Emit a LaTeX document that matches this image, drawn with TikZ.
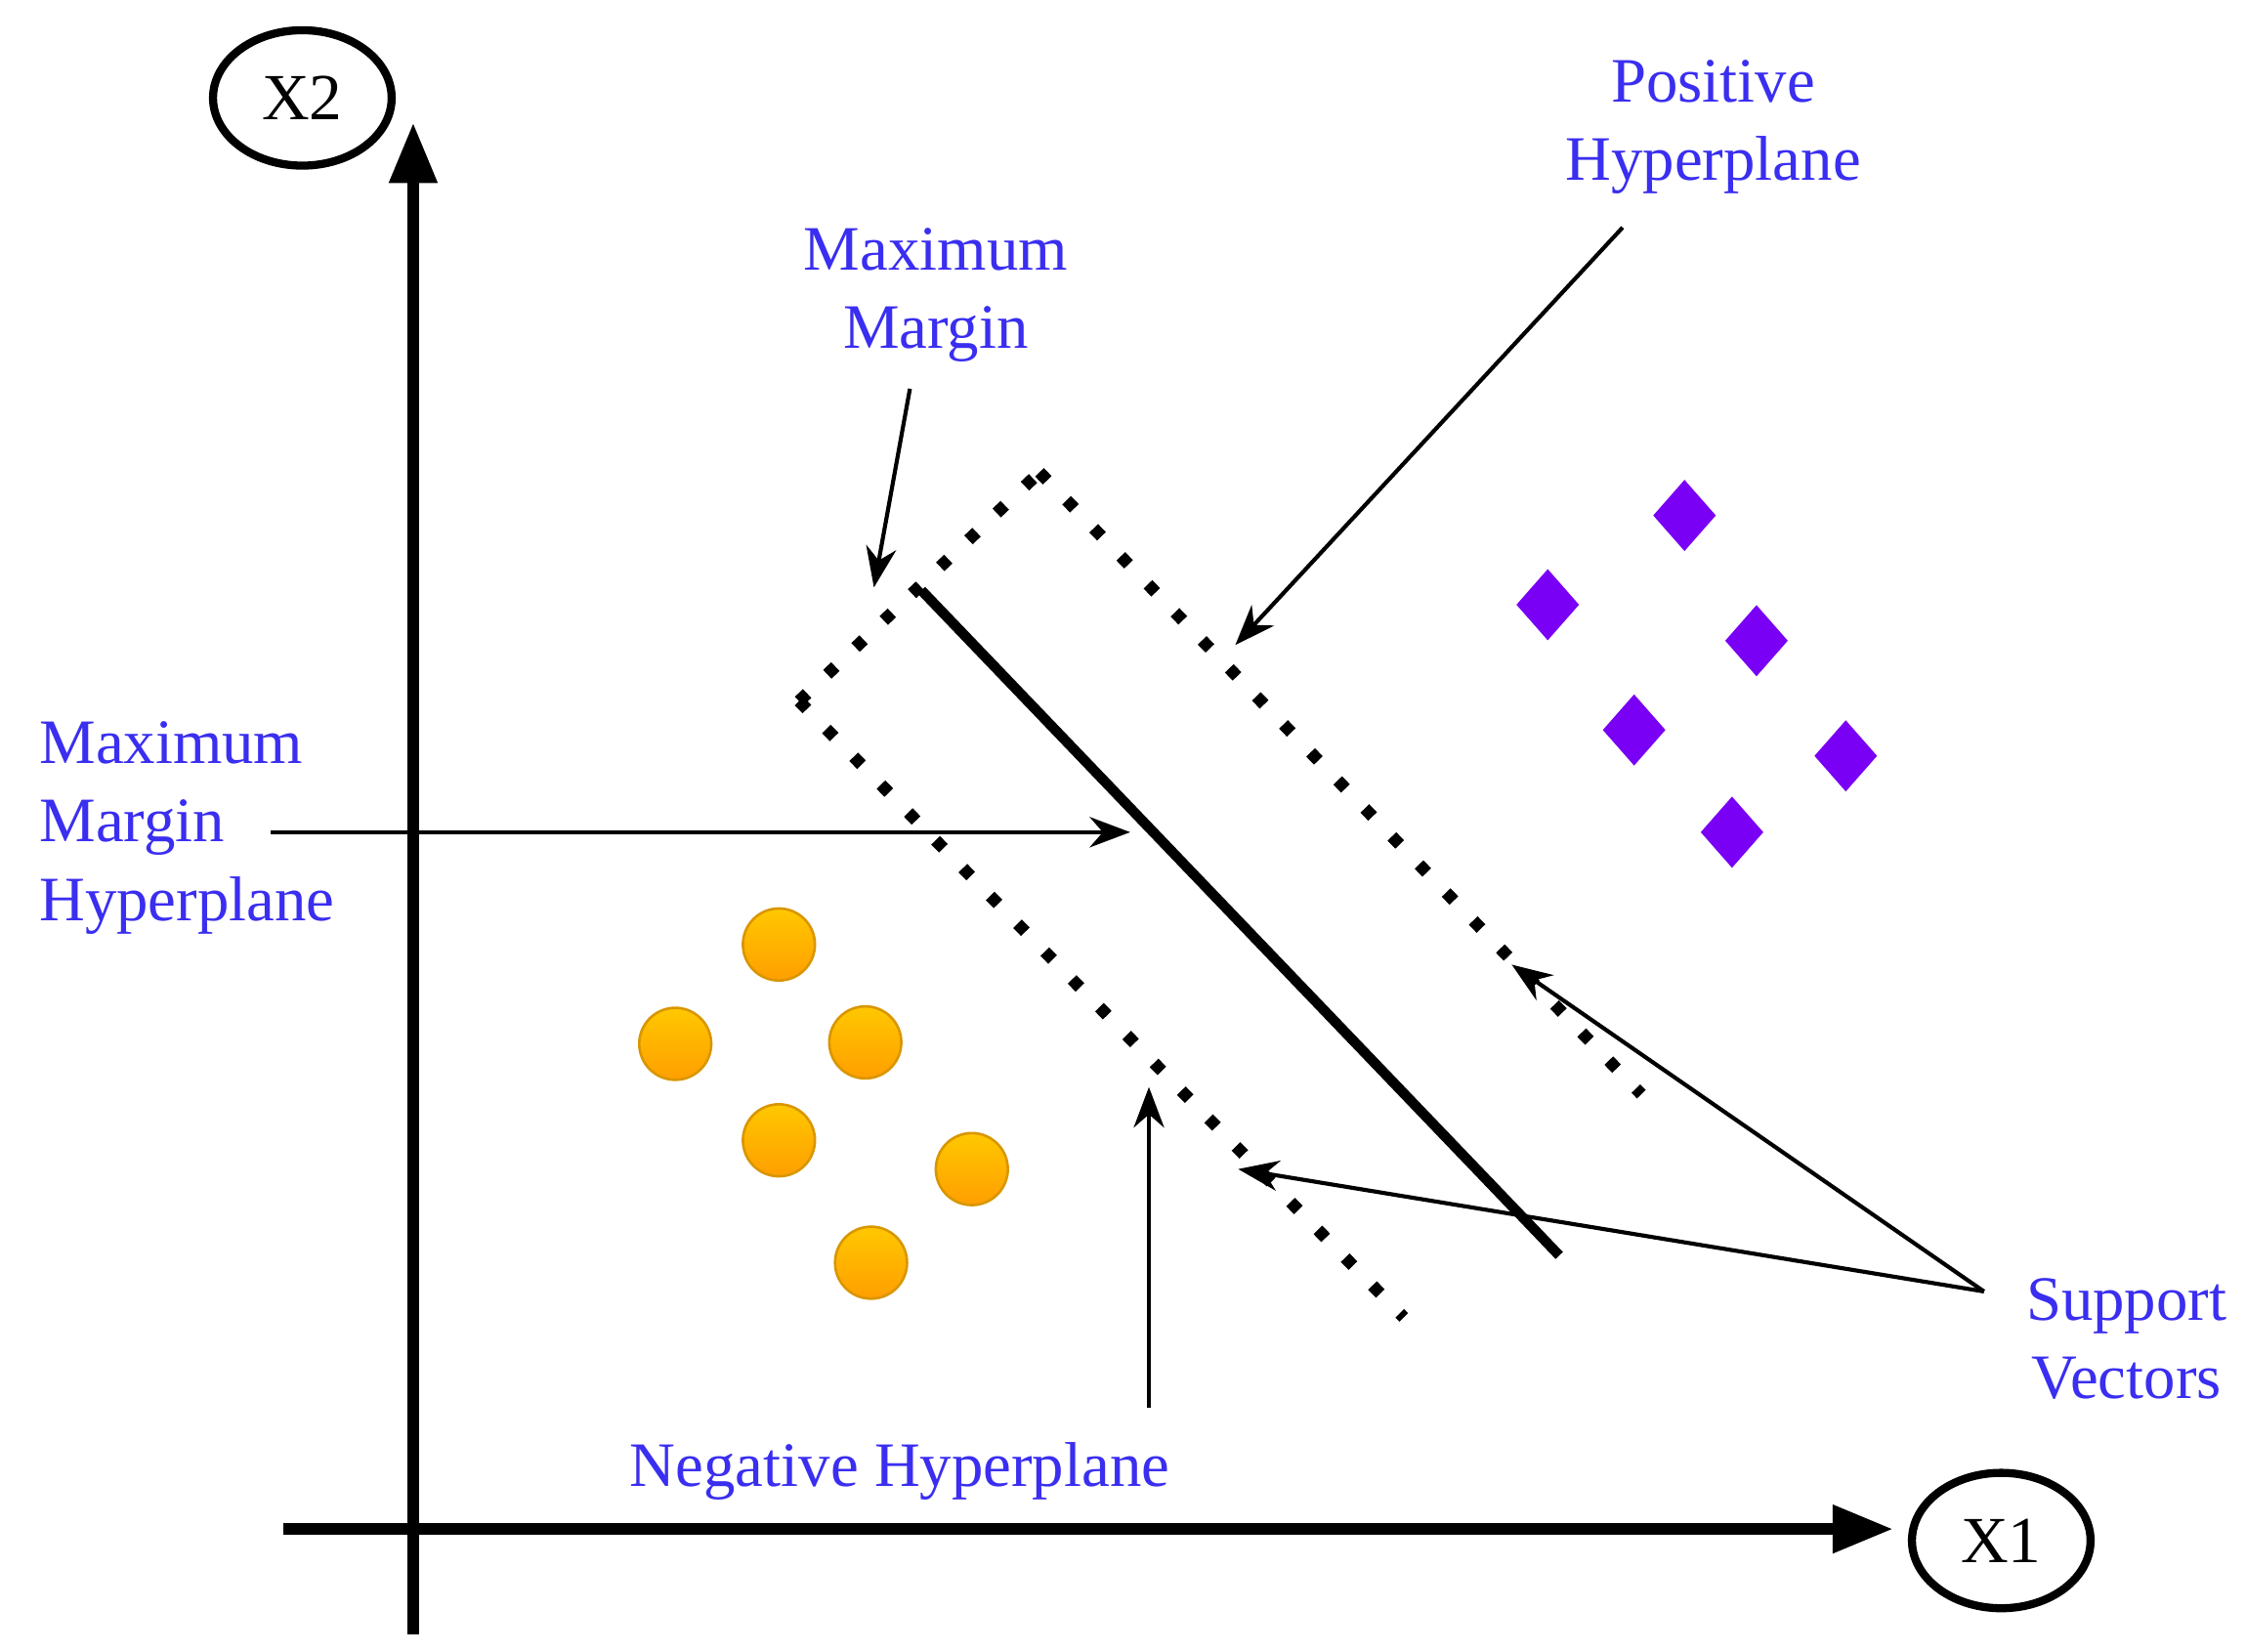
\documentclass[tikz,border=0pt]{standalone}
\usepackage{fontspec}
\setmainfont{Liberation Serif}
\usetikzlibrary{arrows.meta,shapes.geometric}
\definecolor{lbl}{HTML}{3A2EF0}
\definecolor{dia}{HTML}{7A00F5}
\definecolor{org}{HTML}{FFB000}
\begin{document}
\begin{tikzpicture}[x=0.01cm,y=-0.01cm,
  lab/.style={text=lbl,font=\fontsize{12.5}{15.5}\selectfont,align=center},
  axis/.style={line width=2.4pt,-{Triangle[length=12pt,width=9pt]}},
  ptr/.style={line width=0.8pt,-{Stealth[length=8pt,width=6pt]}},
  dots/.style={line width=2.4pt,dash pattern=on 2.2pt off 5.5pt},
  dmd/.style={diamond,fill=dia,minimum width=0.44cm,minimum height=0.5cm,inner sep=0},
  pt/.style={circle,minimum size=0.5cm,inner sep=0,draw=org!85!black,line width=0.5pt,top color=org!70!yellow,bottom color=org!90!red},
  ax/.style={ellipse,draw,line width=1.6pt,minimum width=1.24cm,minimum height=0.94cm,inner sep=0,font=\fontsize{13}{15}\selectfont}]
\useasboundingbox (0,0) rectangle (1560,1147);
\node[ax] (x2) at (210,68) {X2};
\node[ax] (x1) at (1390,1070) {X1};
\coordinate (ya) at (287,1135); \coordinate (yb) at (287,85);
\coordinate (xa) at (197,1062); \coordinate (xb) at (1315,1062);
\draw[axis] (ya) -- (yb);
\draw[axis] (xa) -- (xb);
% margins
\coordinate (a) at (555,487); \coordinate (b) at (722,328);
\coordinate (c) at (1140,760); \coordinate (d) at (975,915);
\draw[dots] (a) -- (b); \draw[dots] (b) -- (c); \draw[dots] (a) -- (d);
\coordinate (s1) at (640,410); \coordinate (s2) at (1083,872);
\draw[line width=2pt] (s1) -- (s2);
% diamonds
\foreach \i/\x/\y in {1/1170/358,2/1075/420,3/1220/445,4/1135/507,5/1282/525,6/1203/578}
  \node[dmd] (d\i) at (\x,\y) {};
\foreach \i/\x/\y in {1/541/656,2/469/725,3/601/724,4/541/792,5/675/812,6/605/877}
  \node[pt] (c\i) at (\x,\y) {};
% labels
\node[lab] (pos) at (1190,88) {Positive\\Hyperplane};
\node[lab] (mm) at (650,205) {Maximum\\Margin};
\node[lab,align=left,anchor=west] (mmh) at (15,575) {Maximum\\Margin\\Hyperplane};
\node[lab] (neg) at (625,1022) {Negative Hyperplane};
\node[lab] (sv) at (1477,930) {Support\\Vectors};
% pointers
\coordinate (p1) at (1127,158); \coordinate (p1e) at (858,448);
\coordinate (p2) at (632,270); \coordinate (p2e) at (607,408);
\coordinate (p3) at (188,578); \coordinate (p3e) at (785,578);
\coordinate (p4) at (798,978); \coordinate (p4e) at (798,755);
\coordinate (p5) at (1378,897); \coordinate (p5a) at (1050,670); \coordinate (p5b) at (860,812);
\draw[ptr] (p1) -- (p1e);
\draw[ptr] (p2) -- (p2e);
\draw[ptr] (p3) -- (p3e);
\draw[ptr] (p4) -- (p4e);
\draw[ptr] (p5) -- (p5a);
\draw[ptr] (p5) -- (p5b);
\end{tikzpicture}
\end{document}
